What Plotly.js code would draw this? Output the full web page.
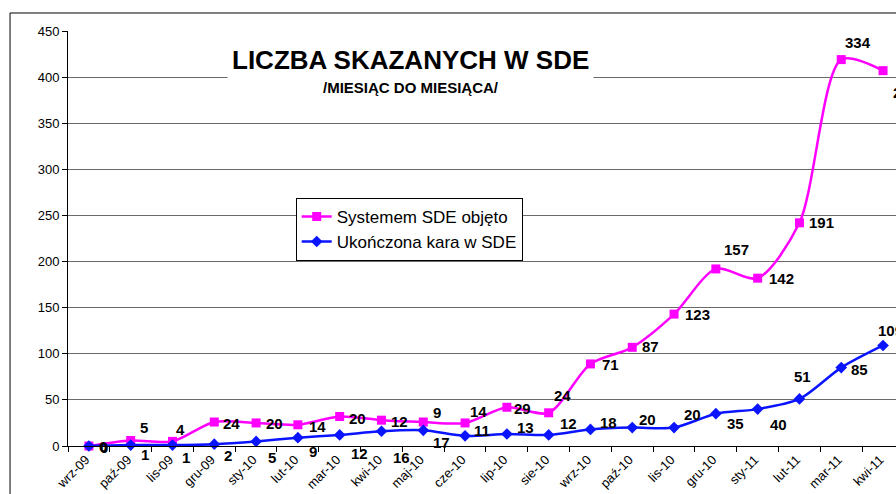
<!DOCTYPE html>
<html><head><meta charset="utf-8">
<script src="https://cdn.plot.ly/plotly-3.0.1.min.js"></script>
<style>html,body{margin:0;padding:0;background:#fff}#chart{width:896px;height:494px}</style>
</head><body><div id="chart"></div>
<script>
const months = ['wrz-09','paź-09','lis-09','gru-09','sty-10','lut-10','mar-10','kwi-10','maj-10','cze-10','lip-10','sie-10','wrz-10','paź-10','lis-10','gru-10','sty-11','lut-11','mar-11','kwi-11'];
const objeto = [0,5,4,24,20,14,20,12,9,14,29,24,71,87,123,157,142,191,334,298];
const ukonczona = [0,1,1,2,5,9,12,16,17,11,13,12,18,20,20,35,40,51,85,109];
const yTicks = [0,50,100,150,200,250,300,350,400,450];

// label offsets (pixels) for data labels
const pinkShiftX = [14,13,8,17,18,20,18,18,14,13,16,14,20,18,23,21,24,22,17,22];
const pinkShiftY = [0,13,12,-1,-1,-2,-2,-1,10,11,-1,17,-1,1,0,19,0,0,17,-22];
const blueShiftX = [15,14,14,14,16,15,20,20,18,17,19,20,18,15,18,20,21,3,18,7];
const blueShiftY = [-1,-9,-12,-11,-16,-14,-19,-26,-12,5,7,11,7,8,13,-10,-15,22,-2,15];

// stacked line: pink plotted on top of blue
const pinkStack = objeto.map((v,i)=>v+ukonczona[i]);

const FONT = 'Arial, "Liberation Sans", sans-serif';
const traces = [
  {x: months, y: pinkStack, name: 'Systemem SDE objęto', type:'scatter', mode:'lines+markers',
   line:{color:'#ff00ff', width:2.5, shape:'spline', smoothing:0.8},
   marker:{symbol:'square', size:9, color:'#ff00ff'}, cliponaxis:false},
  {x: months, y: ukonczona, name: 'Ukończona kara w SDE', type:'scatter', mode:'lines+markers',
   line:{color:'#0a14ff', width:2.5, shape:'spline', smoothing:0.8},
   marker:{symbol:'diamond', size:9, color:'#0a14ff'}, cliponaxis:false}
];

const ann = [];
objeto.forEach((v,i)=>ann.push({x: months[i], y: pinkStack[i], text: String(v), showarrow:false,
  xshift: pinkShiftX[i], yshift: pinkShiftY[i], font:{family:FONT, size:15, color:'#000', weight:'bold'}}));
ukonczona.forEach((v,i)=>ann.push({x: months[i], y: v, text: String(v), showarrow:false,
  xshift: blueShiftX[i], yshift: blueShiftY[i], font:{family:FONT, size:15, color:'#000', weight:'bold'}}));
ann.push({xref:'paper', yref:'paper', x:0.414, y:0.930, xanchor:'center', yanchor:'middle',
  text:'<b>LICZBA SKAZANYCH W SDE</b>', showarrow:false,
  bgcolor:'#fff', borderpad:4, font:{family:FONT, size:26, color:'#000'}});
ann.push({xref:'paper', yref:'paper', x:0.414, y:0.863, xanchor:'center', yanchor:'middle',
  text:'<b>/MIESIĄC DO MIESIĄCA/</b>', showarrow:false,
  font:{family:FONT, size:15, color:'#000'}});

const layout = {
  width:896, height:494,
  margin:{l:68, r:0, t:31, b:48},
  paper_bgcolor:'#fff', plot_bgcolor:'#fff',
  font:{family:FONT, color:'#000'},
  showlegend:true,
  legend:{x:0.275, y:0.598, xanchor:'left', yanchor:'top', bgcolor:'#fff', bordercolor:'#000', borderwidth:1,
    font:{family:FONT, size:17, color:'#000'}, tracegroupgap:0, itemwidth:30},
  xaxis:{type:'category', range:[-0.5, 19.31], showgrid:false, zeroline:false,
    showline:true, linecolor:'#000', linewidth:1, ticks:'outside', ticklen:5, tickcolor:'#000',
    tickson:'boundaries', tickangle:-45, ticklabelshift:-3,
    tickfont:{family:FONT, size:13, color:'#000'}},
  yaxis:{range:[0,450], tickvals:yTicks, showgrid:true, gridcolor:'#6a6a6a', gridwidth:1, zeroline:false,
    showline:true, linecolor:'#000', linewidth:1, ticks:'outside', ticklen:5, tickcolor:'#000',
    tickfont:{family:FONT, size:13, color:'#000'}},
  annotations: ann,
  shapes:[
    {type:'line', xref:'paper', yref:'paper', x0:-0.07, x1:1.02, y0:1.0434, y1:1.0434, line:{color:'#000', width:1}},
    {type:'line', xref:'paper', yref:'paper', x0:-0.07, x1:-0.07, y0:1.0434, y1:-0.2, line:{color:'#000', width:1}}
  ]
};
Plotly.newPlot('chart', traces, layout, {staticPlot:true});
</script></body></html>
